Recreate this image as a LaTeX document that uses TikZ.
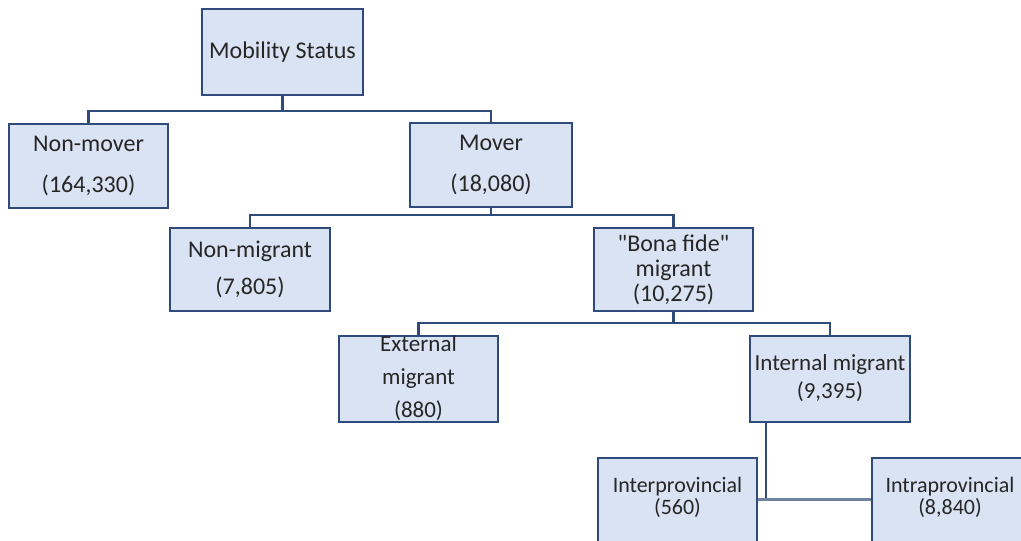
\documentclass[tikz,border=0pt]{standalone}
\usepackage{fontspec}
\setmainfont{Carlito}[Ligatures=TeXOff]
\definecolor{boxfill}{HTML}{DAE3F3}
\definecolor{boxline}{HTML}{2F4B7C}
\definecolor{busgray}{HTML}{6F82A0}
\definecolor{txt}{HTML}{262626}
\begin{document}
\begin{tikzpicture}[x=1pt,y=-1pt,
 box/.style={draw=boxline, fill=boxfill, line width=2pt, inner sep=0pt, align=center, text=txt},
 lbl/.style={inner sep=0pt, align=center, text=txt},
 conn/.style={draw=boxline, line width=2.2pt}]
\useasboundingbox (0,0) rectangle (1021,541);
% boxes
\node[box, minimum width=161pt, minimum height=86pt, font={\fontsize{24}{29}\selectfont}] (ms) at (282.5,52) {Mobility Status};
\node[box, minimum width=159pt, minimum height=84pt, font={\fontsize{24}{41}\selectfont}] (nmv) at (88.5,165.5) {Non-mover\\(164,330)};
\node[box, minimum width=162pt, minimum height=84pt, font={\fontsize{24}{41}\selectfont}] (mv) at (491,165) {Mover\\(18,080)};
\node[box, minimum width=160pt, minimum height=83pt, font={\fontsize{24}{37}\selectfont}] (nmg) at (250,269.5) {Non-migrant\\(7,805)};
\node[box, minimum width=159pt, minimum height=83pt, font={\fontsize{24}{25}\selectfont}] (bf) at (673.5,269.5) {"Bona fide"\\migrant\\(10,275)};
\node[box, minimum width=159pt, minimum height=86pt, font={\fontsize{23}{33}\selectfont}] (ext) at (418.5,378.5) {External\\migrant\\(880)};
\node[box, minimum width=160pt, minimum height=86pt, font={\fontsize{23}{28}\selectfont}] (int) at (830,378.5) {Internal migrant\\(9,395)};
\node[box, minimum width=159pt, minimum height=110pt, anchor=north] (inter) at (677.5,457) {};
\node[box, minimum width=160pt, minimum height=110pt, anchor=north] (intra) at (952,457) {};
\node[lbl, font={\fontsize{22}{22}\selectfont}] (interT) at (677.5,497) {Interprovincial\\(560)};
\node[lbl, font={\fontsize{22}{22}\selectfont}] (intraT) at (950,497) {Intraprovincial\\(8,840)};
% buses
\coordinate (b1) at (282.5,111);
\coordinate (b2) at (491,215);
\coordinate (b3) at (673.5,323);
\coordinate (b4) at (766,499);
\draw[conn] (ms.south) -- (b1) -| (nmv.north);
\draw[conn] (b1) -| (mv.north);
\draw[conn] (mv.south) -- (b2) -| (nmg.north);
\draw[conn] (b2) -| (bf.north);
\draw[conn] (bf.south) -- (b3) -| (ext.north);
\draw[conn] (b3) -| (int.north);
\draw[conn] (int.south -| b4) -- (b4);
\draw[draw=busgray, line width=3pt] (inter.east |- b4) -- (intra.west |- b4);
\end{tikzpicture}
\end{document}
